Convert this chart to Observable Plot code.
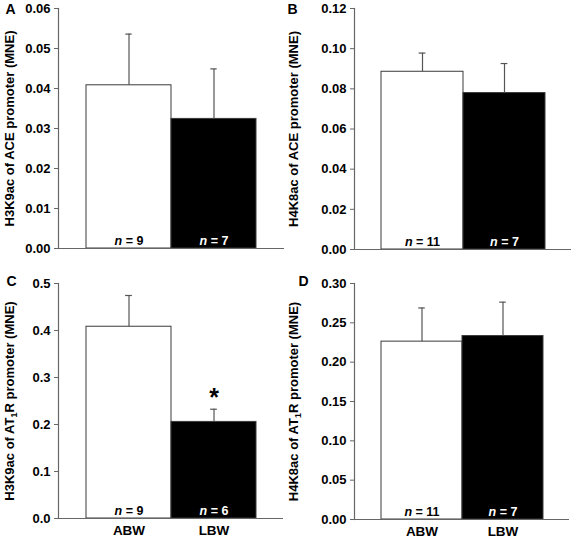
<!DOCTYPE html>
<html><head><meta charset="utf-8">
<script src="https://cdn.jsdelivr.net/npm/d3@7"></script>
<script src="https://cdn.jsdelivr.net/npm/@observablehq/plot@0.6"></script>
<style>
body{margin:0;background:#fff;}
#fig{position:relative;width:574px;height:543px;overflow:hidden;background:#fff;}
.panel{position:absolute;}
</style></head><body><div id="fig"></div>
<script>
const groups = ["ABW", "LBW"];

const meanA = [0.0408, 0.0324];
const semA = [0.0128, 0.0125];
const nA = [9, 7];
const ticksA = [0, 0.01, 0.02, 0.03, 0.04, 0.05, 0.06];
const labelA = "H3K9ac of ACE promoter (MNE)";

const meanB = [0.0885, 0.0779];
const semB = [0.0093, 0.0147];
const nB = [11, 7];
const ticksB = [0, 0.02, 0.04, 0.06, 0.08, 0.10, 0.12];
const labelB = "H4K8ac of ACE promoter (MNE)";

const meanC = [0.408, 0.2055];
const semC = [0.0665, 0.027];
const nC = [9, 6];
const sigC = ["", "*"];
const ticksC = [0, 0.1, 0.2, 0.3, 0.4, 0.5];
const labelC = "H3K9ac of AT1R promoter (MNE)";

const meanD = [0.2261, 0.2332];
const semD = [0.0428, 0.0431];
const nD = [11, 7];
const ticksD = [0, 0.05, 0.10, 0.15, 0.20, 0.25, 0.30];
const labelD = "H4K8ac of AT1R promoter (MNE)";

const FONT = "'Liberation Sans', Arial, Helvetica, sans-serif";

function panel(o) {
  const rows = groups.map((g, i) => ({group: g, mean: o.means[i], sem: o.sems[i], n: o.ns[i], sig: o.sig ? o.sig[i] : ""}));
  const pOuter = 0.32;
  const innerW = o.width - o.mL - o.mR;
  const bw = innerW / (2 + 2 * pOuter);
  const capInset = (bw - 7) / 2;
  const marks = [
    Plot.barY(rows, {x: "group", y: "mean", fill: "group", stroke: "#3a3a3a", strokeWidth: 1}),
    Plot.ruleX(rows, {x: "group", y1: "mean", y2: d => d.mean + d.sem, stroke: "#555", strokeWidth: 1.2}),
    Plot.tickY(rows, {x: "group", y: d => d.mean + d.sem, stroke: "#555", strokeWidth: 1.2, insetLeft: capInset, insetRight: capInset}),
    Plot.ruleY([0], {stroke: "#666", strokeWidth: 1.2}),
    Plot.frame({anchor: "left", stroke: "#666", strokeWidth: 1.2}),
    Plot.axisY({ticks: o.ticks, tickFormat: o.fmt, tickSize: 4, tickPadding: 4, stroke: "#666", fill: "black", label: null, fontSize: 13}),
    Plot.text(rows, {filter: d => d.group === "ABW", x: "group", y: 0, text: d => `n = ${d.n}`, fill: "black", dy: -8, lineAnchor: "middle", fontSize: 12.5}),
    Plot.text(rows, {filter: d => d.group === "LBW", x: "group", y: 0, text: d => `n = ${d.n}`, fill: "white", dy: -8, lineAnchor: "middle", fontSize: 12.5}),
    Plot.text([o.label], {text: d => d, frameAnchor: "left", rotate: -90, dx: o.labelX - o.mL, textAnchor: "middle", lineAnchor: "middle", fontSize: 13, fill: "black"}),
    Plot.text([o.letter], {text: d => d, frameAnchor: "top-left", dx: o.letterX - o.mL, dy: o.letterY - o.mT, lineAnchor: "middle", textAnchor: "middle", fontSize: 14, fill: "black"})
  ];
  if (o.sig) marks.push(Plot.text(rows, {x: "group", y: d => d.mean + d.sem, text: "sig", dy: -11, lineAnchor: "middle", fontSize: 25, fill: "black"}));
  if (o.showX) marks.push(Plot.axisX({tickSize: 0, tickPadding: 7, fontSize: 13.5, fill: "black", label: null}));
  const svg = Plot.plot({
    width: o.width, height: o.height,
    marginLeft: o.mL, marginRight: o.mR, marginTop: o.mT, marginBottom: o.mB,
    style: {fontFamily: FONT, fontWeight: "bold", fontSize: "12.5px", color: "black", background: "white", overflow: "visible"},
    x: {domain: groups, paddingInner: 0, paddingOuter: pOuter, axis: null},
    y: {domain: [0, o.ymax], axis: null},
    color: {domain: groups, range: ["white", "black"]},
    marks
  });
  for (const t of svg.querySelectorAll("text")) {
    const s = t.textContent;
    if (/^n = /.test(s)) {
      t.textContent = "";
      const it = document.createElementNS("http://www.w3.org/2000/svg", "tspan");
      it.setAttribute("font-style", "italic");
      it.textContent = "n";
      t.appendChild(it);
      t.appendChild(document.createTextNode(s.slice(1)));
    } else if (s.includes("AT1R")) {
      const k = s.indexOf("AT1R");
      t.textContent = "";
      t.appendChild(document.createTextNode(s.slice(0, k + 2)));
      const sub = document.createElementNS("http://www.w3.org/2000/svg", "tspan");
      sub.setAttribute("font-size", "9");
      sub.setAttribute("dy", "3");
      sub.textContent = "1";
      t.appendChild(sub);
      const rest = document.createElementNS("http://www.w3.org/2000/svg", "tspan");
      rest.setAttribute("dy", "-3");
      rest.textContent = s.slice(k + 3);
      t.appendChild(rest);
    }
  }
  const div = document.createElement("div");
  div.className = "panel";
  div.style.left = o.left + "px";
  div.style.top = o.top + "px";
  div.appendChild(svg);
  document.getElementById("fig").appendChild(div);
}

const f2 = d3.format(".2f");
const f1 = d3.format(".1f");

panel({letter: "A", label: labelA, means: meanA, sems: semA, ns: nA, ticks: ticksA, fmt: f2, ymax: 0.06,
  left: 0, top: 0, width: 287, height: 270, mL: 58, mR: 3, mT: 8, mB: 22, labelX: 9, letterX: 10, letterY: 9, showX: false});
panel({letter: "B", label: labelB, means: meanB, sems: semB, ns: nB, ticks: ticksB, fmt: f2, ymax: 0.12,
  left: 287, top: 0, width: 287, height: 270, mL: 67, mR: 3, mT: 8, mB: 21, labelX: 6, letterX: 5, letterY: 9, showX: false});
panel({letter: "C", label: labelC, means: meanC, sems: semC, ns: nC, sig: sigC, ticks: ticksC, fmt: f1, ymax: 0.5,
  left: 0, top: 270, width: 287, height: 273, mL: 58, mR: 4, mT: 13, mB: 25, labelX: 9, letterX: 11, letterY: 11, showX: true});
panel({letter: "D", label: labelD, means: meanD, sems: semD, ns: nD, ticks: ticksD, fmt: f2, ymax: 0.30,
  left: 287, top: 270, width: 287, height: 273, mL: 67, mR: 5, mT: 13, mB: 24, labelX: 6, letterX: 16, letterY: 11, showX: true});
</script>
</body></html>
